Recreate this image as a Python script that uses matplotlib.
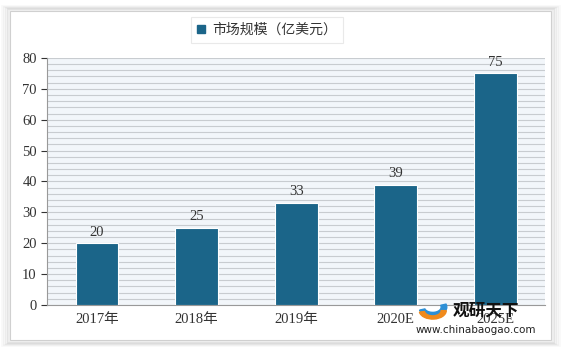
import matplotlib.pyplot as plt
import matplotlib.patches as mpatches
import numpy as np

years = ['2017年', '2018年', '2019年', '2020E', '2025E']
market = [20, 25, 33, 39, 75]
y_ticks = [0, 10, 20, 30, 40, 50, 60, 70, 80]
legend_label = '市场规模（亿美元）'

BAR = '#1b6589'
plt.rcParams['font.family'] = ['Liberation Serif', 'Noto Sans CJK SC']

fig = plt.figure(figsize=(5.62, 3.51), dpi=100)
fig.patch.set_facecolor('#ffffff')

# card frame with soft shadow
for i, a in enumerate([0.05, 0.07, 0.1, 0.14]):
    d = (4 - i) * 0.0035
    fig.add_artist(mpatches.Rectangle((0.018 - d, 0.03 - d), 0.962 + 2 * d, 0.94 + 2 * d,
                                      transform=fig.transFigure, facecolor='none',
                                      edgecolor=(0.5, 0.5, 0.5, a), lw=2, zorder=-5))
fig.add_artist(mpatches.Rectangle((0.018, 0.03), 0.962, 0.94, transform=fig.transFigure,
                                  facecolor='white', edgecolor='#d0d0d0', lw=0.8, zorder=-4))

ax = fig.add_axes([0.084, 0.131, 0.886, 0.704])
ax.set_facecolor('#f2f6fa')
x = np.arange(len(years))
ax.bar(x, market, width=0.43, color=BAR, edgecolor='white', linewidth=0.8, zorder=3)
for xi, v in zip(x, market):
    ax.text(xi, v + 1.5, str(v), ha='center', va='bottom', fontsize=10.5, color='#333333')

ax.set_ylim(0, 80)
ax.set_xlim(-0.5, len(years) - 0.5)
ax.set_yticks(y_ticks)
ax.set_yticks(np.arange(0, 81, 2), minor=True)
ax.yaxis.grid(True, which='both', color='#c8ccd0', lw=0.8, zorder=0)
ax.set_axisbelow(True)
ax.set_xticks(x)
ax.set_xticklabels(years, fontsize=10.5, color='#333333')
ax.tick_params(axis='y', which='major', labelsize=10.5, colors='#333333', length=4)
ax.tick_params(axis='y', which='minor', length=0)
ax.tick_params(axis='x', length=0, pad=6)
for s in ['top', 'right']:
    ax.spines[s].set_visible(False)
ax.spines['left'].set_color('#999999')
ax.spines['bottom'].set_color('#999999')

leg = fig.legend(handles=[mpatches.Patch(color=BAR, label=legend_label)],
                 loc='center', bbox_to_anchor=(0.475, 0.915), frameon=True,
                 prop={'family': ['Noto Sans CJK SC'], 'size': 10},
                 handlelength=0.6, handleheight=0.6, handletextpad=0.5,
                 borderpad=0.45, fancybox=False, shadow=False)
leg.get_frame().set_edgecolor('#e4e4e4')
leg.get_frame().set_facecolor('white')
leg.get_frame().set_linewidth(0.8)
for t in leg.get_texts():
    t.set_color('#333333')

# watermark
fig.text(0.805, 0.115, '观研天下', fontsize=12, fontweight='bold', color='#111111',
         family=['Noto Sans CJK SC'], ha='left', va='center', zorder=10)
fig.text(0.74, 0.06, 'www.chinabaogao.com', fontsize=7.5, color='#222222',
         family=['DejaVu Sans'], ha='left', va='center', zorder=10)
fig.add_artist(mpatches.Wedge((0.77, 0.125), 0.025, 200, 20, width=0.01,
                              transform=fig.transFigure, color='#2c8fd6', zorder=10))
fig.add_artist(mpatches.Wedge((0.77, 0.115), 0.024, 190, 360, width=0.009,
                              transform=fig.transFigure, color='#f08a1c', zorder=10))

fig.savefig('out.png', dpi=100)
